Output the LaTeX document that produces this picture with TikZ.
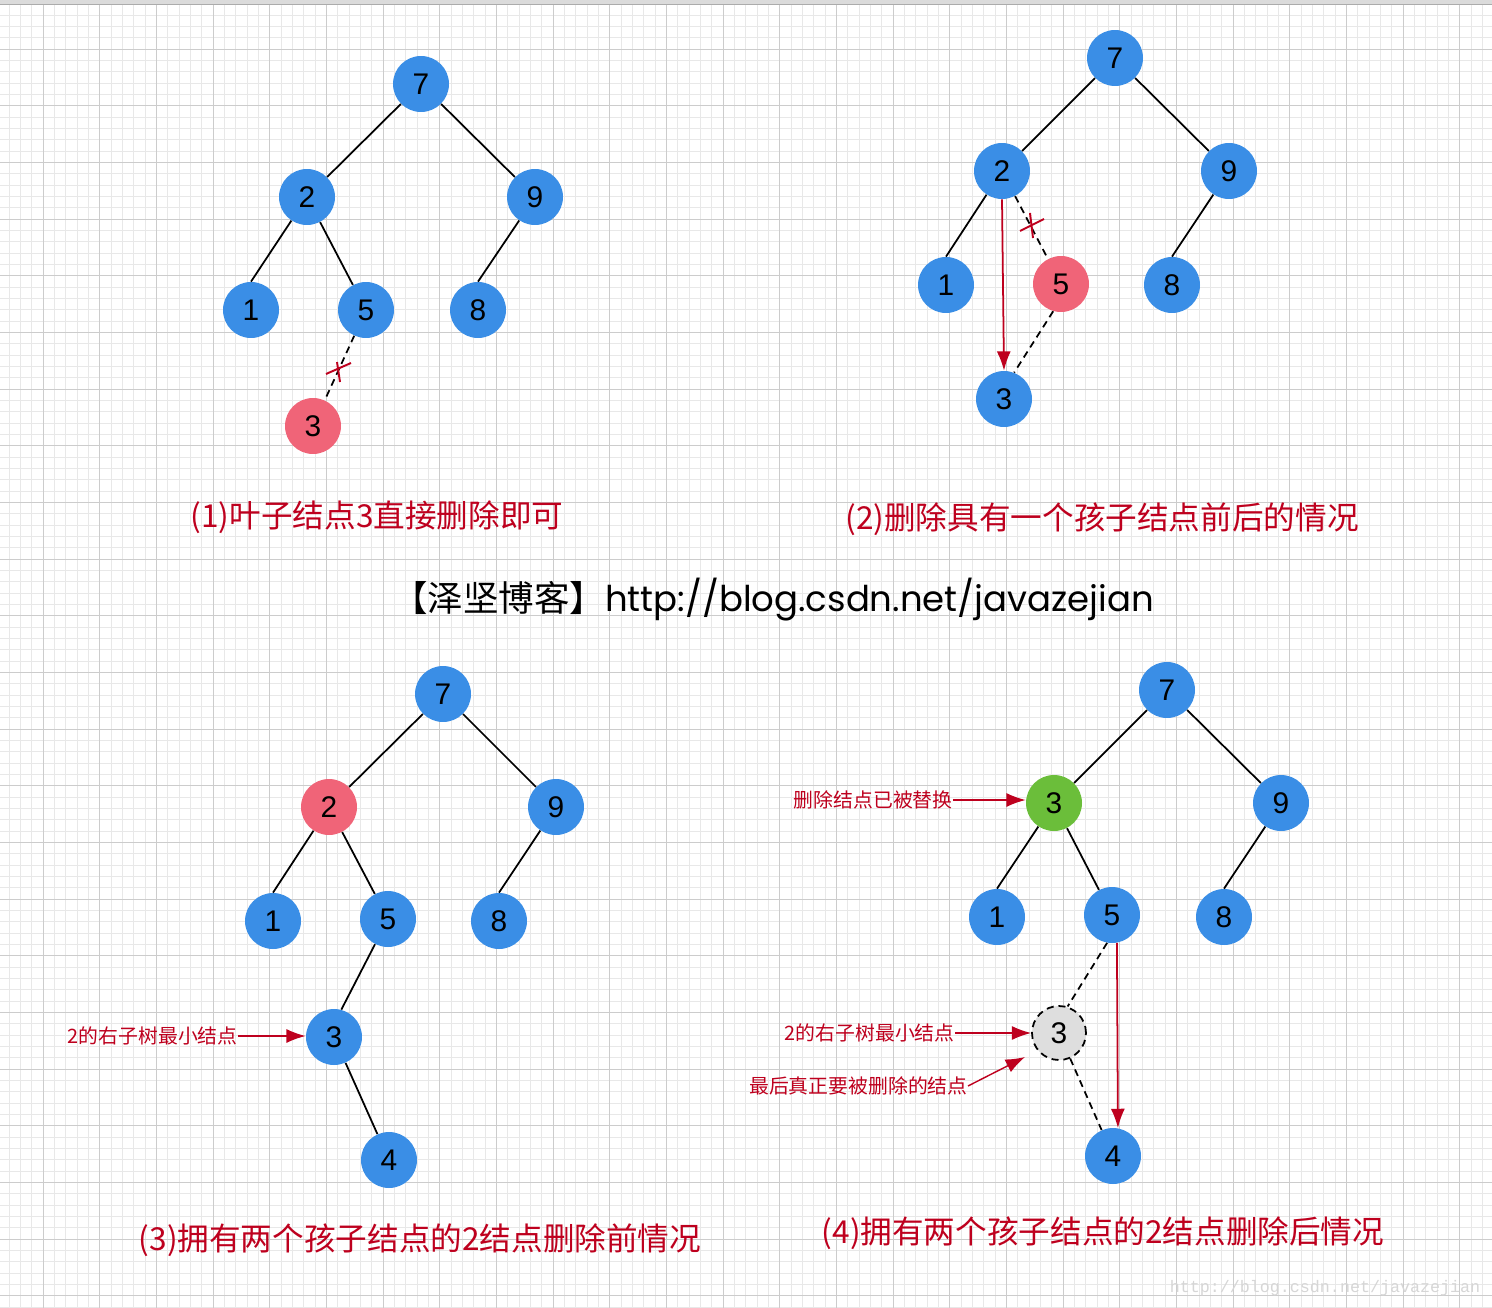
\documentclass[tikz,border=0pt]{standalone}
\usepackage{fontspec}
\setmainfont{Liberation Sans}
\setmonofont{Liberation Mono}
\newfontfamily\cjk{Noto Sans CJK SC}
\newfontfamily\urlfont{Poppins}
\usetikzlibrary{arrows.meta}
\definecolor{nodeblue}{RGB}{58,142,230}
\definecolor{delred}{RGB}{240,100,120}
\definecolor{newgreen}{RGB}{107,190,58}
\definecolor{markred}{RGB}{190,0,30}
\definecolor{gridminor}{RGB}{232,232,232}
\definecolor{gridmajor}{RGB}{204,204,204}

\begin{document}
\begin{tikzpicture}[x=0.02cm, y=-0.02cm,
    num/.style={circle, fill=nodeblue, minimum size=1.12cm, inner sep=0pt, font=\fontsize{17}{17}\selectfont},
    edge/.style={line width=1pt},
    gone/.style={edge, dash pattern=on 4pt off 2.8pt},
    cut/.style={markred, line width=1.1pt},
    arr/.style={-{Latex[length=11pt,width=8pt]}, markred, line width=1pt},
    note/.style={markred, inner sep=0pt, font=\cjk\fontsize{11.3}{12}\selectfont},
    caption/.style={markred, font=\cjk\fontsize{18}{20}\selectfont}
]
    \useasboundingbox (0,0) rectangle (1492,1308);

    % Grid paper
    \fill[white] (0,0) rectangle (1492,1308);
    \foreach \k in {0,...,130}
        \draw[gridminor, line width=0.5pt] ({9+11.333*\k},0) -- ++(0,1308);
    \foreach \k in {0,...,115}
        \draw[gridminor, line width=0.5pt] (0,{3.7+11.333*\k}) -- ++(1492,0);
    \foreach \k in {0,...,25}
        \draw[gridmajor, line width=0.55pt] ({43+56.67*\k},0) -- ++(0,1308);
    \foreach \k in {0,...,22}
        \draw[gridmajor, line width=0.55pt] (0,{49+56.67*\k}) -- ++(1492,0);
    \fill[black!14] (0,0) rectangle (1492,4);
    \fill[black!33] (0,4) rectangle (1492,5.5);

    % (1) leaf
    \node[num] (p1a) at (421,84) {7};
    \node[num] (p1b) at (307,197) {2};
    \node[num] (p1c) at (535,197) {9};
    \node[num] (p1d) at (251,310) {1};
    \node[num] (p1e) at (366,310) {5};
    \node[num] (p1f) at (478,310) {8};
    \node[num, fill=delred] (p1g) at (313,426) {3};
    \draw[edge] (p1a) -- (p1b);
    \draw[edge] (p1a) -- (p1c);
    \draw[edge] (p1b) -- (p1d.north);
    \draw[edge] (p1b) -- (p1e);
    \draw[edge] (p1c) -- (p1f.north);
    \draw[gone] (p1e) -- (p1g);
    \coordinate (cut1) at (339,370);
    \draw[cut] (cut1) ++(-13,4) -- ++(25,-11) (cut1) ++(-2,-8) -- ++(3,20);
    \node[caption] (cap1) at (377,517) {(1)叶子结点3直接删除即可};

    % (2) one child
    \node[num] (p2a) at (1115,58) {7};
    \node[num] (p2b) at (1002,171) {2};
    \node[num] (p2c) at (1229,171) {9};
    \node[num] (p2d) at (946,285) {1};
    \node[num, fill=delred] (p2e) at (1061,284) {5};
    \node[num] (p2f) at (1172,285) {8};
    \node[num] (p2g) at (1004,399) {3};
    \draw[edge] (p2a) -- (p2b);
    \draw[edge] (p2a) -- (p2c);
    \draw[edge] (p2b) -- (p2d.north);
    \draw[gone] (p2b) -- (p2e);
    \draw[edge] (p2c) -- (p2f.north);
    \draw[gone] (p2e.-106) -- (p2g.69);
    \draw[arr] (p2b.south) -- (p2g.north);
    \coordinate (cut2) at (1032,226);
    \draw[cut] (cut2) ++(-12,5) -- ++(24,-12) (cut2) ++(-2,-13) -- ++(3,25);
    \node[caption] (cap2) at (1102,519) {(2)删除具有一个孩子结点前后的情况};

    % Title
    \node[font=\fontsize{20.2}{22}\selectfont] (title) at (773,600)
        {\cjk 【泽坚博客】\urlfont http://blog.csdn.net/javazejian};

    % (3) two children, before
    \node[num] (p3a) at (443,694) {7};
    \node[num, fill=delred] (p3b) at (329,807) {2};
    \node[num] (p3c) at (556,807) {9};
    \node[num] (p3d) at (273,921) {1};
    \node[num] (p3e) at (388,919) {5};
    \node[num] (p3f) at (499,921) {8};
    \node[num] (p3g) at (334,1037) {3};
    \node[num] (p3h) at (389,1160) {4};
    \draw[edge] (p3a) -- (p3b);
    \draw[edge] (p3a) -- (p3c);
    \draw[edge] (p3b) -- (p3d.north);
    \draw[edge] (p3b) -- (p3e);
    \draw[edge] (p3c) -- (p3f.north);
    \draw[edge] (p3e) -- (p3g.75);
    \draw[edge] (p3g) -- (p3h);
    \node[note, anchor=east] (n3a) at (238,1036) {2的右子树最小结点};
    \draw[arr, line width=0.8pt] (n3a.east) -- (n3a.east -| p3g.west);
    \node[caption] (cap3) at (420,1240) {(3)拥有两个孩子结点的2结点删除前情况};

    % (4) two children, after
    \node[num] (p4a) at (1167,690) {7};
    \node[num, fill=newgreen] (p4b) at (1054,803) {3};
    \node[num] (p4c) at (1281,803) {9};
    \node[num] (p4d) at (997,917) {1};
    \node[num] (p4e) at (1112,915) {5};
    \node[num] (p4f) at (1224,917) {8};
    \node[num, fill=black!13, draw, line width=1pt, dash pattern=on 4pt off 2.8pt,
        minimum size=1.08cm] (p4g) at (1059,1033) {3};
    \node[num] (p4h) at (1113,1156) {4};
    \draw[edge] (p4a) -- (p4b);
    \draw[edge] (p4a) -- (p4c);
    \draw[edge] (p4b) -- (p4d.north);
    \draw[edge] (p4b) -- (p4e);
    \draw[edge] (p4c) -- (p4f.north);
    \draw[gone] (p4e.-100) -- (p4g.72);
    \draw[gone] (p4g) -- (p4h);
    \draw[arr] (p4e.-80) -- (p4h.80);
    \node[note, anchor=east] (n4a) at (953,800) {删除结点已被替换};
    \node[note, anchor=east] (n4b) at (955,1033) {2的右子树最小结点};
    \node[note, anchor=east] (n4c) at (968,1086) {最后真正要被删除的结点};
    \coordinate (hit) at (1025,1057);
    \draw[arr, line width=0.8pt] (n4a.east) -- (n4a.east -| p4b.west);
    \draw[arr, line width=0.8pt] (n4b.east) -- (n4b.east -| p4g.west);
    \draw[arr, line width=0.8pt] (n4c.east) -- (hit);
    \node[caption] (cap4) at (1103,1233) {(4)拥有两个孩子结点的2结点删除后情况};

    % Watermark
    \node[font=\ttfamily\fontsize{9.5}{10}\selectfont, text=black!16] (mark) at (1325,1288)
        {http://blog.csdn.net/javazejian};
\end{tikzpicture}
\end{document}
